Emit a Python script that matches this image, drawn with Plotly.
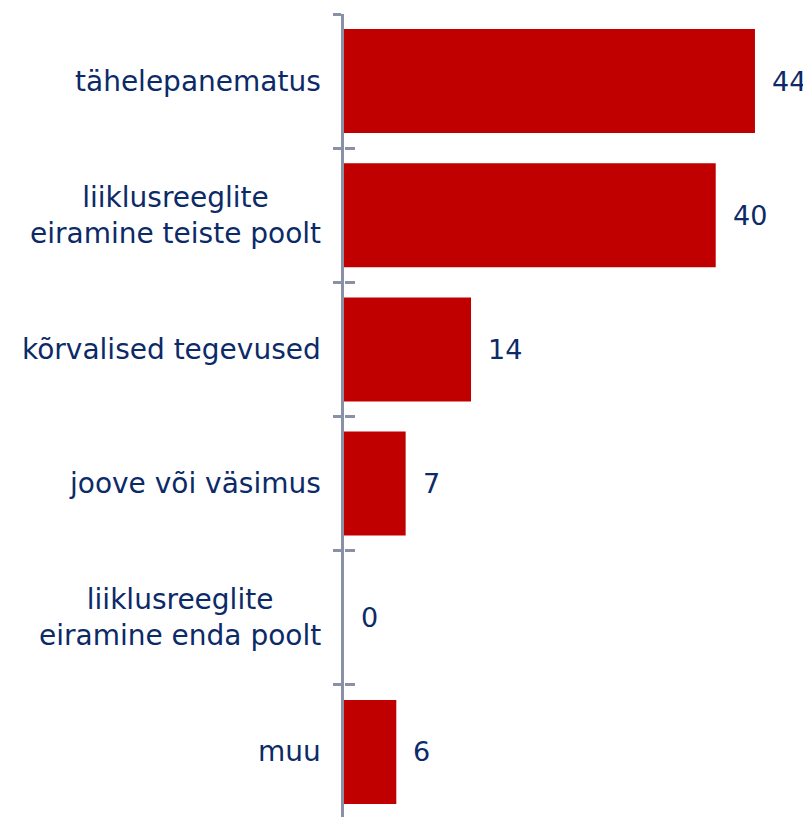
import plotly.graph_objects as go

categories = [
    "tähelepanematus",
    "liiklusreeglite<br>eiramine teiste poolt",
    "kõrvalised tegevused",
    "joove või väsimus",
    "liiklusreeglite<br>eiramine enda poolt",
    "muu",
]
values = [44.0, 39.8, 13.6, 6.6, 0.0, 5.6]

BAR = "#C00000"
TXT = "#0C2A68"
AX = "#8A91A6"
FONT = "Verdana, DejaVu Sans, sans-serif"
FS = 28

fig = go.Figure()
fig.add_trace(go.Bar(
    x=values, y=categories, orientation="h",
    marker=dict(color=BAR, line=dict(width=0)),
    hoverinfo="skip", showlegend=False,
))
# invisible helper trace so the second axis draws its boundary ticks
fig.add_trace(go.Scatter(
    x=values, y=categories, yaxis="y2", mode="markers",
    marker=dict(opacity=0), hoverinfo="skip", showlegend=False,
))

annotations = []
for c, v in zip(categories, values):
    annotations.append(dict(
        x=v, y=c, xref="x", yref="y", xanchor="left", yanchor="middle",
        xshift=15, text=f"{v:.0f}", showarrow=False,
        font=dict(family=FONT, size=FS - 1, color=TXT),
    ))
    annotations.append(dict(
        x=0, y=c, xref="paper", yref="y", xanchor="right", yanchor="middle",
        xshift=-21, text=c, showarrow=False, align="center",
        font=dict(family=FONT, size=FS, color=TXT),
    ))

ycommon = dict(
    type="category", categoryorder="array", categoryarray=categories,
    range=[len(categories) - 0.5, -0.5], tickson="boundaries",
    showticklabels=False, showgrid=False, zeroline=False,
    tickcolor=AX, tickwidth=2.5, fixedrange=True,
)

fig.update_layout(
    width=803, height=811,
    margin=dict(l=336, r=0, t=6, b=0),
    paper_bgcolor="white", plot_bgcolor="white",
    bargap=0.225,
    xaxis=dict(range=[0, 50], visible=False, fixedrange=True),
    yaxis=dict(**ycommon, ticks="outside", ticklen=8,
               showline=True, linecolor=AX, linewidth=2.5),
    yaxis2=dict(**ycommon, overlaying="y", anchor="free", position=0,
                side="left", ticks="inside", ticklen=10, showline=False),
    annotations=annotations,
    font=dict(family=FONT, color=TXT),
)

fig.write_html("out.html")
